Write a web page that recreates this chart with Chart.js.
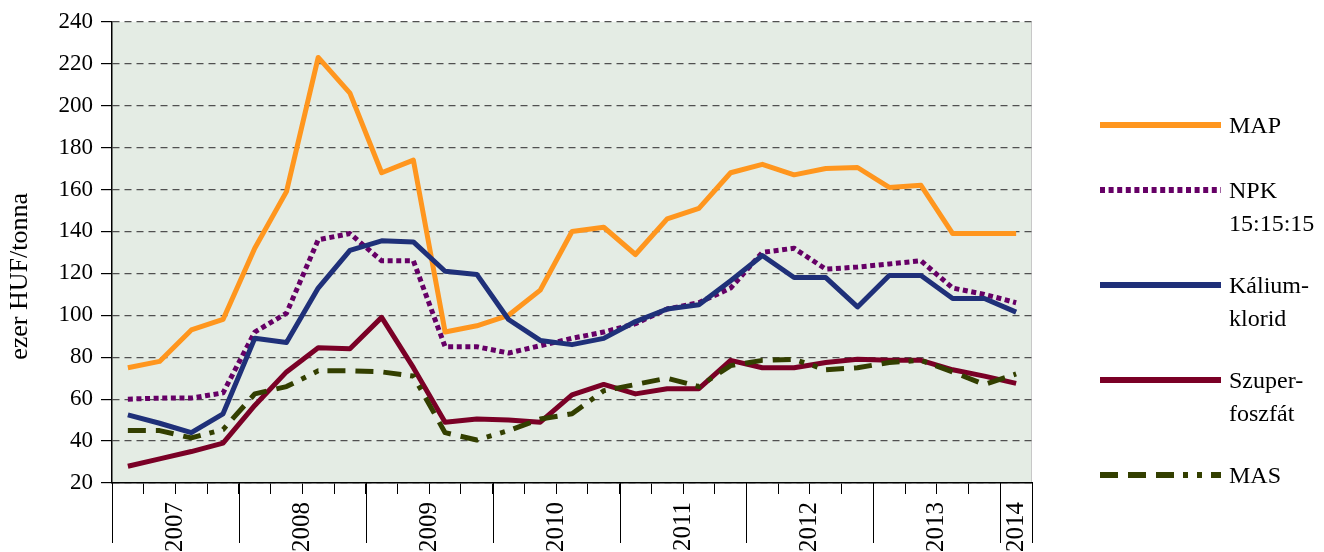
<!DOCTYPE html>
<html>
<head>
<meta charset="utf-8">
<script src="https://cdn.jsdelivr.net/npm/chart.js@4.4.1/dist/chart.umd.min.js"></script>
<style>
  body { margin: 0; background: #fff; }
  #wrap { width: 1324px; height: 552px; }
</style>
</head>
<body>
<div id="wrap"><canvas id="priceChart" width="1324" height="552"></canvas></div>
<script>
// negyedéves adatok, 2007 Q1 - 2014 Q1
const quarters = [
  "2007 Q1", "2007 Q2", "2007 Q3", "2007 Q4",
  "2008 Q1", "2008 Q2", "2008 Q3", "2008 Q4",
  "2009 Q1", "2009 Q2", "2009 Q3", "2009 Q4",
  "2010 Q1", "2010 Q2", "2010 Q3", "2010 Q4",
  "2011 Q1", "2011 Q2", "2011 Q3", "2011 Q4",
  "2012 Q1", "2012 Q2", "2012 Q3", "2012 Q4",
  "2013 Q1", "2013 Q2", "2013 Q3", "2013 Q4",
  "2014 Q1"
];
const yTicks = [20, 40, 60, 80, 100, 120, 140, 160, 180, 200, 220, 240];

const mapValues = [75, 78, 93, 98, 132, 159, 223, 206, 168, 174, 92, 95, 100, 112,
  140, 142, 129, 146, 151, 168, 172, 167, 170, 170.5, 161, 162, 139, 139, 139];
const npkValues = [60, 60.5, 60.5, 63, 92, 101, 136, 139, 126, 126, 85, 85, 82, 85.5,
  89, 92, 96, 103, 106, 113, 130, 132, 122, 123, 124.5, 126, 113, 110, 106];
const kaliumValues = [52.5, 48.5, 44, 53, 89, 87, 113, 131, 135.5, 135, 121, 119.5, 98, 88,
  86, 89, 97, 103, 105, 116.5, 128.5, 118, 118, 104, 119, 119, 108, 108, 101.5];
const szuperValues = [28, 31.5, 35, 39, 57, 73, 84.5, 84, 99, 75, 49, 50.5, 50, 49,
  62, 67, 62.5, 65, 65, 78.5, 75, 75, 77.5, 79, 78.5, 78.5, 74, 71, 67.5];
const masValues = [45, 45, 41.5, 45.5, 62.5, 66, 73.5, 73.5, 73, 71, 44, 40.5, 45, 50.5,
  53, 64, 67, 70, 66, 76, 78.5, 79, 74, 75, 77.5, 78.5, 73, 67, 72];

const legendText = [["MAP"], ["NPK", "15:15:15"], ["Kálium-", "klorid"], ["Szuper-", "foszfát"], ["MAS"]];
const yTitle = "ezer HUF/tonna";

const FONT = "'Liberation Serif', 'Times New Roman', serif";

// évek csoportosítása a negyedévekből
const years = [];
quarters.forEach((q, i) => {
  const y = q.slice(0, 4);
  let g = years.find(e => e.year === y);
  if (!g) { g = { year: y, first: i, last: i }; years.push(g); }
  g.last = i;
});

const chartBg = {
  id: "chartBg",
  beforeDraw(chart) {
    const a = chart.chartArea;
    const ctx = chart.ctx;
    ctx.save();
    ctx.fillStyle = "#e4ece4";
    ctx.fillRect(a.left, a.top, a.right - a.left, a.bottom - a.top);
    ctx.strokeStyle = "#c8c8c8";
    ctx.lineWidth = 1;
    ctx.beginPath();
    ctx.moveTo(a.right - 0.5, a.top);
    ctx.lineTo(a.right - 0.5, a.bottom);
    ctx.stroke();
    ctx.restore();
  },
  afterDraw(chart) {
    const ctx = chart.ctx;
    const a = chart.chartArea;
    const sx = chart.scales.x2;
    // év-elválasztó vonalak
    ctx.save();
    ctx.strokeStyle = "#000";
    ctx.lineWidth = 1;
    const bounds = years.map(g => g.first - 0.5).concat([years[years.length - 1].last + 0.5]);
    bounds.forEach(b => {
      const px = Math.round(sx.getPixelForValue(b)) + 0.5;
      ctx.beginPath();
      ctx.moveTo(px, a.bottom);
      ctx.lineTo(px, a.bottom + 60);
      ctx.stroke();
    });
    ctx.restore();

    // tengelycím
    ctx.save();
    ctx.font = "26px " + FONT;
    ctx.fillStyle = "#000";
    ctx.textAlign = "center";
    ctx.textBaseline = "middle";
    ctx.translate(20, (a.top + a.bottom) / 2 + 24);
    ctx.rotate(-Math.PI / 2);
    ctx.fillText(yTitle, 0, 0);
    ctx.restore();

    // jelmagyarázat
    const lx = 1100, lw = 121, tx = 1229;
    const rows = [125, 190, 285, 380, 475];
    ctx.save();
    ctx.font = "24px " + FONT;
    ctx.fillStyle = "#000";
    ctx.textBaseline = "alphabetic";
    chart.data.datasets.forEach((ds, i) => {
      const y = rows[i];
      ctx.strokeStyle = ds.borderColor;
      ctx.lineWidth = 6;
      ctx.lineCap = "butt";
      ctx.setLineDash(ds.borderDash || []);
      ctx.beginPath();
      ctx.moveTo(lx, y);
      ctx.lineTo(lx + lw, y);
      ctx.stroke();
      ctx.setLineDash([]);
      legendText[i].forEach((t, k) => ctx.fillText(t, tx, y + 8 + k * 33));
    });
    ctx.restore();
  }
};

const lineDs = (label, data, color, dash, order) => ({
  label, data,
  borderColor: color,
  backgroundColor: color,
  borderWidth: 5,
  borderDash: dash,
  borderCapStyle: "butt",
  borderJoinStyle: "round",
  pointRadius: 0,
  tension: 0,
  fill: false,
  order
});

new Chart(document.getElementById("priceChart"), {
  type: "line",
  data: {
    labels: quarters,
    datasets: [
      lineDs("MAP", mapValues, "#ff961e", [], 4),
      lineDs("NPK 15:15:15", npkValues, "#660066", [5, 3.6], 3),
      lineDs("Kálium-klorid", kaliumValues, "#1f3079", [], 2),
      lineDs("Szuperfoszfát", szuperValues, "#7a0026", [], 1),
      lineDs("MAS", masValues, "#333f00", [18, 10, 18, 10, 18, 9, 5, 9, 5, 9], 0)
    ]
  },
  options: {
    responsive: false,
    animation: false,
    devicePixelRatio: 1,
    layout: { padding: { top: 21, right: 292, left: 0, bottom: 0 } },
    plugins: { legend: { display: false }, tooltip: { enabled: false } },
    scales: {
      x: {
        type: "category",
        offset: true,
        grid: { offset: true, drawOnChartArea: false, drawTicks: true, tickLength: 11, color: "#000", tickColor: "#000" },
        border: { display: true, color: "#000", width: 1.5 },
        ticks: { display: false, autoSkip: false },
        afterFit(s) { s.height = 1; }
      },
      x2: {
        type: "linear",
        position: "bottom",
        min: -0.5,
        max: quarters.length - 0.5,
        grid: { display: false, drawTicks: false },
        border: { display: false },
        afterBuildTicks(s) { s.ticks = years.map(g => ({ value: (g.first + g.last) / 2 })); },
        ticks: {
          autoSkip: false,
          minRotation: 90,
          maxRotation: 90,
          padding: 18,
          color: "#000",
          font: { family: FONT, size: 25 },
          callback: (v) => {
            const g = years.find(e => (e.first + e.last) / 2 === v);
            return g ? g.year : "";
          }
        },
        afterFit(s) { s.height = 68; }
      },
      y: {
        min: yTicks[0],
        max: yTicks[yTicks.length - 1],
        afterBuildTicks(s) { s.ticks = yTicks.map(v => ({ value: v })); },
        grid: { color: "#505050", lineWidth: 1.2, tickLength: 11, tickColor: "#000", tickWidth: 1.2 },
        border: { display: true, color: "#000", width: 1.5, dash: [7, 5] },
        ticks: { color: "#000", padding: 8, font: { family: FONT, size: 23 } },
        afterFit(s) { s.width = 112; }
      }
    }
  },
  plugins: [chartBg]
});
</script>
</body>
</html>
